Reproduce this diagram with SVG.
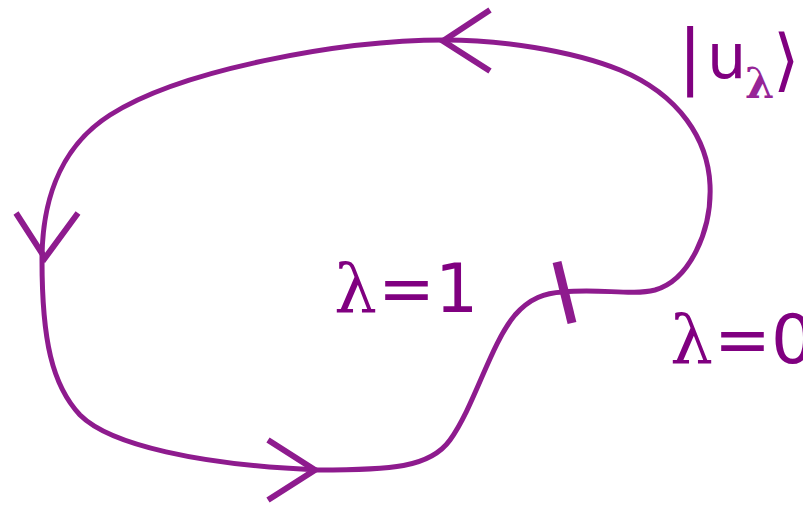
<svg xmlns="http://www.w3.org/2000/svg" width="803" height="506" viewBox="0 0 803 506">
<style>
.c{fill:none;stroke:#8e1b8e;stroke-width:5;stroke-linecap:butt;stroke-linejoin:miter}
.ar{fill:none;stroke:#8e1b8e;stroke-width:6}
.t{fill:#800080;font-family:"DejaVu Sans",Verdana,sans-serif}
.s{fill:#800080;font-family:"DejaVu Serif","Liberation Serif",serif}
</style>
<rect width="803" height="506" fill="#fff"/>
<g id="connectors">
<path id="loop" class="c" d="M563,292 C600,288 630,296 655,290 C690,280 712,230 710,185 C708,140 680,95 620,70 C570,50 500,40 445,40 C340,40 180,70 110,115 C55,150 42,210 42,260 C42,340 52,385 80,415 C110,445 200,465 318,470 C390,470 430,468 450,440 C475,405 490,345 515,315 C530,298 545,293 563,292 Z"/>
<path class="ar" d="M490,10 L443,41 L490,71"/>
<path class="ar" d="M16,213 L45,258 L78,213"/>
<path class="ar" d="M268,440 L315,470 L268,500"/>
<path class="ar" d="M557,262 L572,323" style="stroke-width:9"/>
</g>
<g id="label-ket">
<text class="t" x="678" y="80" font-size="72">|</text>
<text class="t" x="707" y="78" font-size="62">u</text>
<text class="s" x="745" y="98" font-size="42" font-weight="bold" style="fill:#962596">λ</text>
<text class="t" x="773" y="83" font-size="68">⟩</text>
</g>
<g id="label-l1">
<text class="s" x="334" y="312" font-size="68">λ</text>
<text class="t" x="378" y="312" font-size="68">=1</text>
</g>
<g id="label-l0">
<text class="s" x="670" y="363" font-size="68">λ</text>
<text class="t" x="714" y="363" font-size="68">=0</text>
</g>
</svg>
